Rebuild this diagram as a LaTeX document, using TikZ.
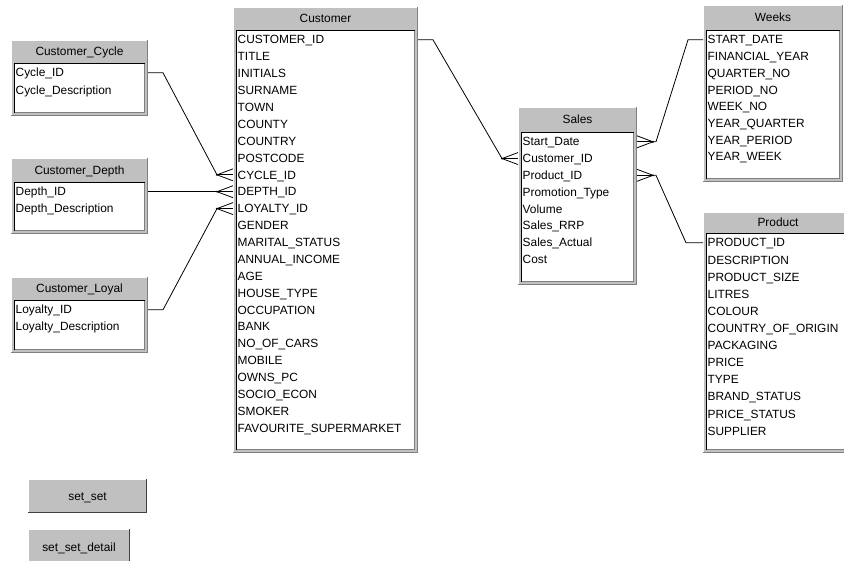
\documentclass[tikz,border=0pt]{standalone}
\usepackage{fontspec}
\setmainfont{Liberation Sans}
\definecolor{wgray}{HTML}{C0C0C0}
\definecolor{wdark}{HTML}{808080}
\tikzset{
  rowtext/.style={anchor=west, inner sep=0pt, text height=8.4pt, text depth=0pt, font=\fontsize{11.9}{14}\selectfont},
  titletext/.style={inner sep=0pt, text height=8.4pt, text depth=0pt, font=\fontsize{11.9}{14}\selectfont},
  conn/.style={draw=black, line width=0.8pt},
  apexdot/.style={fill=black, radius=1pt},
}
% #1 name, #2 left, #3 top, #4 right, #5 bottom, #6 header bottom, #7 title, #8 row step, #9 rows
\newcommand\erentity[9]{%
  \fill[wgray] (#2,#3) rectangle (#4,#5);
  \node[inner sep=0pt, outer sep=0pt, minimum width={(#4-#2)*1pt}, minimum height={(#5-#3)*1pt}] (#1) at ({(#2+#4)/2},{(#3+#5)/2}) {};
  \draw[white, line width=1pt] (#2+0.5,#5) -- (#2+0.5,#3+0.5) -- (#4,#3+0.5);
  \draw[wdark, line width=1pt] (#4-0.5,#3) -- (#4-0.5,#5-0.5) -- (#2,#5-0.5);
  \fill[white] (#2+3,#6) rectangle (#4-3,#5-3);
  \draw[black, line width=1pt] (#2+3.5,#5-3) -- (#2+3.5,#6+0.5) -- (#4-3,#6+0.5);
  \draw[wdark, line width=0.6pt] (#4-3.3,#6+1) -- (#4-3.3,#5-3.3) -- (#2+4,#5-3.3);
  \node[titletext] (#1-title) at ({(#2+#4)/2},{(#3+#6)/2}) {#7};
  \foreach \txt [count=\i] in {#9} {
    \node[rowtext] (#1-\i) at (#2+4.5,{#6+9.8+(\i-1)*#8}) {\txt};
  }
}
% #1 name, #2 left, #3 top, #4 right, #5 bottom, #6 text
\newcommand\erbutton[6]{%
  \fill[wgray] (#2,#3) rectangle (#4,#5);
  \draw[white, line width=1pt] (#2+0.5,#5) -- (#2+0.5,#3+0.5) -- (#4,#3+0.5);
  \draw[black!75, line width=1pt] (#4-0.5,#3) -- (#4-0.5,#5-0.5) -- (#2,#5-0.5);
  \node[titletext] (#1) at ({(#2+#4)/2},{(#3+#5)/2}) {#6};
}
\begin{document}
\begin{tikzpicture}[x=1pt, y=-1pt]
\path[use as bounding box] (0,0) rectangle (844,561);
\clip (0,0) rectangle (844,561);
\fill[white] (0,0) rectangle (844,561);

\erentity{cycle}{11}{40}{148}{116}{63}{Customer\_Cycle}{17.5}{Cycle\_ID,Cycle\_Description}
\erentity{depth}{11}{158}{148}{234}{182}{Customer\_Depth}{17}{Depth\_ID,Depth\_Description}
\erentity{loyal}{11}{277}{148}{353}{300}{Customer\_Loyal}{17}{Loyalty\_ID,Loyalty\_Description}
\erentity{cust}{233}{7}{418}{453}{30}{Customer}{16.88}{CUSTOMER\_ID,TITLE,INITIALS,SURNAME,TOWN,COUNTY,COUNTRY,POSTCODE,CYCLE\_ID,DEPTH\_ID,LOYALTY\_ID,GENDER,MARITAL\_STATUS,ANNUAL\_INCOME,AGE,HOUSE\_TYPE,OCCUPATION,BANK,NO\_OF\_CARS,MOBILE,OWNS\_PC,SOCIO\_ECON,SMOKER,FAVOURITE\_SUPERMARKET}
\erentity{sales}{518}{107}{637}{285}{132}{Sales}{16.76}{Start\_Date,Customer\_ID,Product\_ID,Promotion\_Type,Volume,Sales\_RRP,Sales\_Actual,Cost}
\erentity{weeks}{703}{5}{843}{182}{30}{Weeks}{16.7}{START\_DATE,FINANCIAL\_YEAR,QUARTER\_NO,PERIOD\_NO,WEEK\_NO,YEAR\_QUARTER,YEAR\_PERIOD,YEAR\_WEEK}
\erentity{product}{703}{212}{853}{453}{233}{Product}{17.1}{PRODUCT\_ID,DESCRIPTION,PRODUCT\_SIZE,LITRES,COLOUR,COUNTRY\_OF\_ORIGIN,PACKAGING,PRICE,TYPE,BRAND\_STATUS,PRICE\_STATUS,SUPPLIER}

\erbutton{setset}{28}{479}{147}{513}{set\_set}
\erbutton{setsetdetail}{28}{529}{130}{565}{set\_set\_detail}

% apex coordinates of the crow's feet
\coordinate (a1) at ([xshift=-16pt]cust.west |- cust-9);
\coordinate (a2) at ([xshift=-16pt]cust.west |- cust-10);
\coordinate (a3) at ([xshift=-16pt]cust.west |- cust-11);
\coordinate (a4) at ([xshift=-16pt]sales.west |- sales-2);
\coordinate (a5) at ([xshift=16pt]sales.east |- sales-1);
\coordinate (a6) at ([xshift=16pt]sales.east |- sales-3);

% one-side lines
\draw[conn] (cycle.east |- cycle-1) -- ++(15,0) -- (a1);
\draw[conn] (depth.east |- a2) -- (a2);
\draw[conn] (loyal.east |- loyal-1) -- ++(15,0) -- (a3);
\draw[conn] (cust.east |- cust-1) -- ++(15,0) -- (a4);
\draw[conn] (weeks.west |- weeks-1) -- ++(-15,0) -- ([xshift=3pt]a5) -- (a5);
\draw[conn] (product.west |- product-1) -- ++(-17,0) -- ([xshift=3pt]a6) -- (a6);

% crow's feet (many side)
\foreach \ap/\tgt in {a1/cust-9, a2/cust-10, a3/cust-11} {
  \draw[conn] ([yshift=6pt]cust.west |- \tgt) -- (\ap) -- ([yshift=-6pt]cust.west |- \tgt);
  \draw[conn] (\ap) -- (cust.west |- \tgt);
  \fill[apexdot] (\ap) circle;
}
\draw[conn] ([yshift=6pt]sales.west |- sales-2) -- (a4) -- ([yshift=-6pt]sales.west |- sales-2);
\draw[conn] (a4) -- (sales.west |- sales-2);
\fill[apexdot] (a4) circle;
\foreach \ap/\tgt in {a5/sales-1, a6/sales-3} {
  \draw[conn] ([yshift=6pt]sales.east |- \tgt) -- (\ap) -- ([yshift=-6pt]sales.east |- \tgt);
  \draw[conn] (\ap) -- (sales.east |- \tgt);
  \fill[apexdot] (\ap) circle;
}
\end{tikzpicture}
\end{document}
